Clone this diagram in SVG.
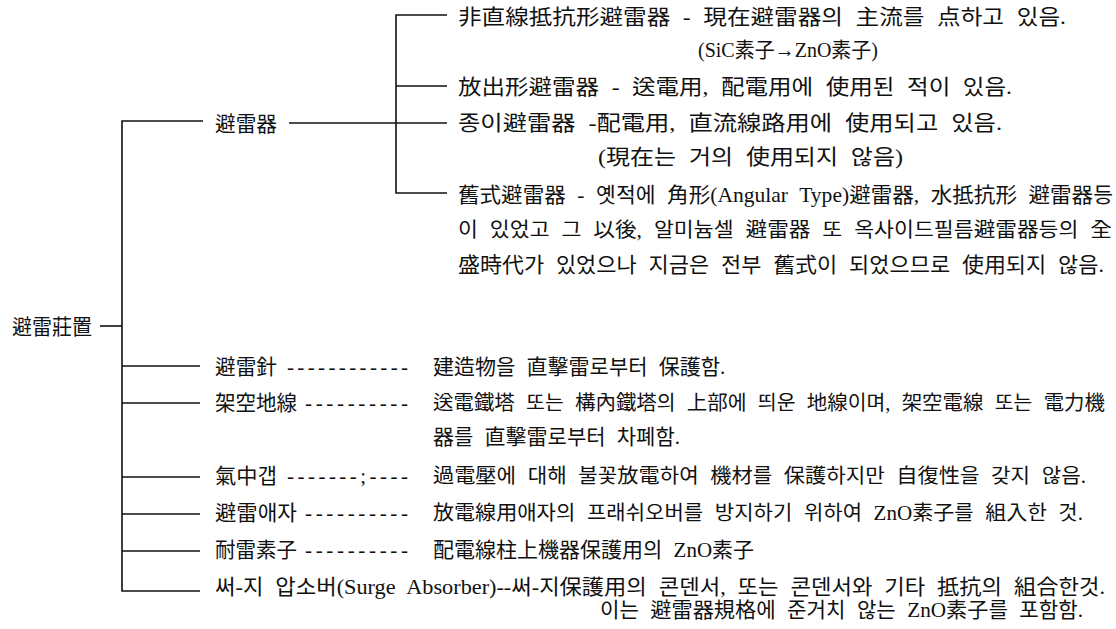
<svg xmlns="http://www.w3.org/2000/svg" width="1116" height="629" viewBox="0 0 1116 629">
<style>
text{font-family:"Liberation Serif","Noto Sans CJK KR",serif;font-size:21px;word-spacing:6px;fill:#111}
.d{word-spacing:0}
.s{font-size:20px}
.ln{stroke:#111;stroke-width:1.6;fill:none}
</style>
<rect width="1116" height="629" fill="#fff"/>
<g id="connectors">
<path class="ln" d="M203,121 H122 V591 H200"/>
<path class="ln" d="M100,326 H122"/>
<path class="ln" d="M122,366 H200 M122,403 H200 M122,477 H200 M122,514 H200 M122,551 H200"/>
<path class="ln" d="M289,123 H447"/>
<path class="ln" d="M447,15 H396 V193 H447 M396,86 H447"/>
</g>
<g id="root"><text x="12" y="334" textLength="80" lengthAdjust="spacingAndGlyphs">避雷莊置</text></g>
<g id="arrester"><text x="215" y="131" textLength="62" lengthAdjust="spacingAndGlyphs">避雷器</text></g>
<g id="a1">
<text x="458" y="24" textLength="608" lengthAdjust="spacingAndGlyphs">非直線抵抗形避雷器 - 現在避雷器의 主流를 点하고 있음.</text>
<text x="698" y="57" textLength="180" lengthAdjust="spacingAndGlyphs">(SiC素子→ZnO素子)</text>
</g>
<g id="a2"><text x="458" y="94" textLength="554" lengthAdjust="spacingAndGlyphs">放出形避雷器 - 送電用, 配電用에 使用된 적이 있음.</text></g>
<g id="a3">
<text x="458" y="130" textLength="544" lengthAdjust="spacingAndGlyphs">종이避雷器 -配電用, 直流線路用에 使用되고 있음.</text>
<text x="598" y="164" textLength="305" lengthAdjust="spacingAndGlyphs">(現在는 거의 使用되지 않음)</text>
</g>
<g id="a4">
<text x="458" y="202" textLength="655" lengthAdjust="spacingAndGlyphs">舊式避雷器 - 옛적에 角形(Angular Type)避雷器, 水抵抗形 避雷器등</text>
<text class="s" x="458" y="237" textLength="654" lengthAdjust="spacingAndGlyphs">이 있었고 그 以後, 알미늄셀 避雷器 또 옥사이드필름避雷器등의 全</text>
<text x="458" y="272" textLength="646" lengthAdjust="spacingAndGlyphs">盛時代가 있었으나 지금은 전부 舊式이 되었으므로 使用되지 않음.</text>
</g>
<g id="b1">
<text x="215" y="374" textLength="62" lengthAdjust="spacingAndGlyphs">避雷針</text>
<text class="d" x="287" y="374" textLength="121" lengthAdjust="spacing">------------</text>
<text x="433" y="374">建造物을 直擊雷로부터 保護함.</text>
</g>
<g id="b2">
<text x="215" y="410" textLength="82" lengthAdjust="spacingAndGlyphs">架空地線</text>
<text class="d" x="305" y="410" textLength="103" lengthAdjust="spacing">----------</text>
<text class="s" x="433" y="410" textLength="672" lengthAdjust="spacingAndGlyphs">送電鐵塔 또는 構內鐵塔의 上部에 띄운 地線이며, 架空電線 또는 電力機</text>
<text x="433" y="444">器를 直擊雷로부터 차폐함.</text>
</g>
<g id="b3">
<text x="215" y="483" textLength="62" lengthAdjust="spacingAndGlyphs">氣中갭</text>
<text class="d" x="287" y="483" textLength="121" lengthAdjust="spacing">-------;----</text>
<text class="s" x="433" y="483" textLength="653" lengthAdjust="spacingAndGlyphs">過電壓에 대해 불꽃放電하여 機材를 保護하지만 自復性을 갖지 않음.</text>
</g>
<g id="b4">
<text x="215" y="520" textLength="82" lengthAdjust="spacingAndGlyphs">避雷애자</text>
<text class="d" x="305" y="520" textLength="103" lengthAdjust="spacing">----------</text>
<text class="s" x="433" y="520" textLength="650" lengthAdjust="spacingAndGlyphs">放電線用애자의 프래쉬오버를 방지하기 위하여 ZnO素子를 組入한 것.</text>
</g>
<g id="b5">
<text x="215" y="557" textLength="82" lengthAdjust="spacingAndGlyphs">耐雷素子</text>
<text class="d" x="305" y="557" textLength="103" lengthAdjust="spacing">----------</text>
<text x="433" y="557">配電線柱上機器保護用의 ZnO素子</text>
</g>
<g id="b6">
<text x="215" y="594" textLength="890" lengthAdjust="spacingAndGlyphs">써-지 압소버(Surge Absorber)--써-지保護用의 콘덴서, 또는 콘덴서와 기타 抵抗의 組合한것.</text>
<text x="600" y="617" textLength="483" lengthAdjust="spacingAndGlyphs">이는 避雷器規格에 준거치 않는 ZnO素子를 포함함.</text>
</g>
</svg>
